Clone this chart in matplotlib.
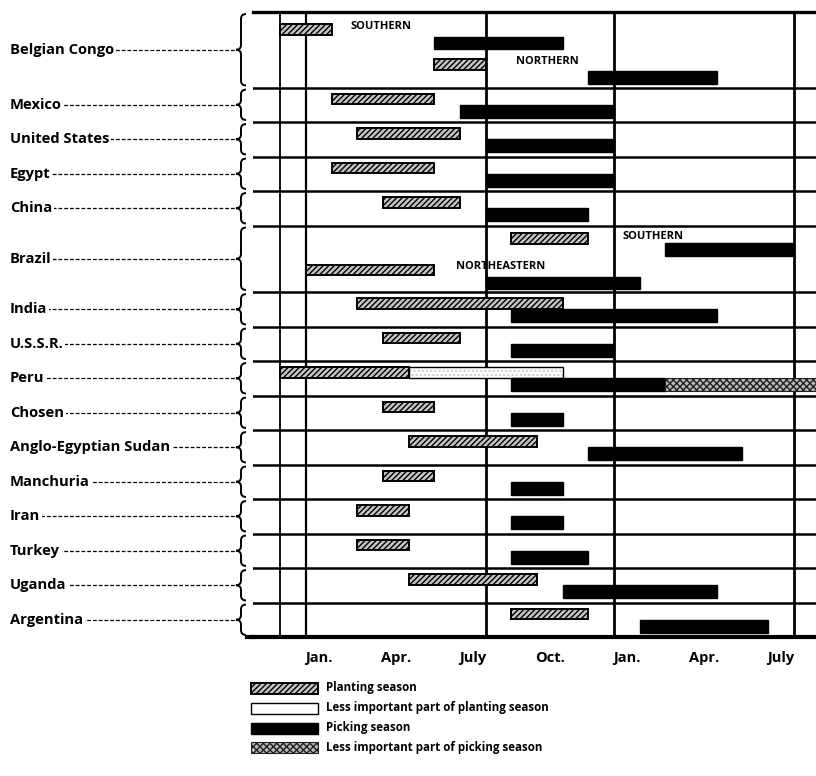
import matplotlib
matplotlib.use("Agg")
import matplotlib.pyplot as plt
import matplotlib.transforms as mtransforms
from matplotlib.patches import Rectangle, PathPatch
from matplotlib.path import Path

plt.rcParams['font.family'] = ['Open Sans', 'DejaVu Sans']
plt.rcParams['hatch.linewidth'] = 1.0

# months counted from Jan. of the first year (0 = start of Jan.)
countries = ["Belgian Congo", "Mexico", "United States", "Egypt", "China", "Brazil",
             "India", "U.S.S.R.", "Peru", "Chosen", "Anglo-Egyptian Sudan", "Manchuria",
             "Iran", "Turkey", "Uganda", "Argentina"]
planting = [[(-1, 1), (5, 7)], [(1, 5)], [(2, 6)], [(1, 5)], [(3, 6)], [(8, 11), (0, 5)],
            [(2, 10)], [(3, 6)], [(-1, 4)], [(3, 5)], [(4, 9)], [(3, 5)],
            [(2, 4)], [(2, 4)], [(4, 9)], [(8, 11)]]
planting_minor = {"Peru": (4, 10)}
picking = [[(5, 10), (11, 16)], [(6, 12)], [(7, 12)], [(7, 12)], [(7, 11)], [(14, 19), (7, 13)],
           [(8, 16)], [(8, 12)], [(8, 14)], [(8, 10)], [(11, 17)], [(8, 10)],
           [(8, 10)], [(8, 11)], [(10, 16)], [(13, 18)]]
picking_minor = {"Peru": (14, 20)}
regions = {"Belgian Congo": ["SOUTHERN", "NORTHERN"], "Brazil": ["SOUTHERN", "NORTHEASTERN"]}
tick_labels = ["Jan.", "Apr.", "July", "Oct.", "Jan.", "Apr.", "July"]
legend_labels = ["Planting season", "Less important part of planting season",
                 "Picking season", "Less important part of picking season"]

# layout of rows (in row units)
row_h = {"Belgian Congo": 2.19, "Brazil": 1.93}
sub_pos = {"Belgian Congo": dict(plant=[0.50, 1.53], pick=[0.90, 1.90], text=[0.42, 1.43], tx=[1.75, 8.2]),
           "Brazil": dict(plant=[0.37, 1.29], pick=[0.70, 1.67], text=[0.31, 1.19], tx=[12.35, 5.85])}

W, H = 816, 776
fig = plt.figure(figsize=(W / 100, H / 100), dpi=100)
ax = fig.add_axes([253 / W, 1 - 637 / H, (816 - 253) / W, (637 - 12) / H])

PH, KH = 0.31, 0.37


def plant_bar(x0, x1, yc):
    ax.add_patch(Rectangle((x0, yc - PH / 2), x1 - x0, PH, facecolor='#c4c4c4', edgecolor='black',
                           hatch='//////', lw=1.4, zorder=3))


def plant_minor_bar(x0, x1, yc):
    ax.add_patch(Rectangle((x0, yc - PH / 2), x1 - x0, PH, facecolor='white', edgecolor='#c8c8c8',
                           hatch='....', lw=0, zorder=3))
    ax.add_patch(Rectangle((x0, yc - PH / 2), x1 - x0, PH, fill=False, edgecolor='black', lw=1.0, zorder=3))


def pick_bar(x0, x1, yc):
    ax.add_patch(Rectangle((x0, yc - KH / 2), x1 - x0, KH, facecolor='black', edgecolor='black',
                           lw=1, zorder=3))


def pick_minor_bar(x0, x1, yc):
    ax.add_patch(Rectangle((x0, yc - KH / 2), x1 - x0, KH, facecolor='#b8b8b8', edgecolor='#222222',
                           hatch='xxxxx', lw=0.8, zorder=3))


blend = mtransforms.blended_transform_factory(fig.transFigure, ax.transData)

y = 0.0
bounds = [0.0]
for i, c in enumerate(countries):
    h = row_h.get(c, 1.0)
    if c in sub_pos:
        sp = sub_pos[c]
        for k, (s, e) in enumerate(planting[i]):
            plant_bar(s, e, y + sp['plant'][k])
        for k, (s, e) in enumerate(picking[i]):
            pick_bar(s, e, y + sp['pick'][k])
        for k, name in enumerate(regions[c]):
            ax.text(sp['tx'][k], y + sp['text'][k], name, fontsize=8, fontweight='bold',
                    ha='left', va='center', zorder=4)
    else:
        for s, e in planting[i]:
            plant_bar(s, e, y + 0.33)
        if c in planting_minor:
            plant_minor_bar(*planting_minor[c], y + 0.33)
        for s, e in picking[i]:
            pick_bar(s, e, y + 0.69)
        if c in picking_minor:
            pick_minor_bar(*picking_minor[c], y + 0.69)

    # label, leader and brace
    yt, yb, ym = y, y + h, y + h / 2
    ax.plot([12 / W, 236 / W], [ym, ym], transform=blend, clip_on=False, color='black',
            lw=0.9, ls=(0, (3, 1.6)))
    ax.text(10 / W, ym, c, transform=blend, fontsize=10.6, fontweight='bold', ha='left', va='center',
            bbox=dict(facecolor='white', edgecolor='none', pad=1.2), zorder=5)
    r, e = 0.14, 0.06
    xr, xm, xl = 246 / W, 241 / W, 236 / W
    verts = [(xr, yt + e), (xm, yt + e), (xm, yt + e + r), (xm, ym - r), (xm, ym), (xl, ym),
             (xm, ym), (xm, ym + r), (xm, yb - e - r), (xm, yb - e), (xr, yb - e)]
    codes = [Path.MOVETO, Path.CURVE3, Path.CURVE3, Path.LINETO, Path.CURVE3, Path.CURVE3,
             Path.CURVE3, Path.CURVE3, Path.LINETO, Path.CURVE3, Path.CURVE3]
    ax.add_patch(PathPatch(Path(verts, codes), transform=blend, fill=False, lw=1.4, clip_on=False))

    y += h
    bounds.append(y)

for b in bounds[1:-1]:
    ax.axhline(b, color='black', lw=1.8, zorder=2)
for xv, lw in [(-1, 1.3), (0, 1.6), (7, 2.0), (12, 2.0), (19, 2.0)]:
    ax.axvline(xv, color='black', lw=lw, zorder=1)

ax.set_xlim(-2.06, 19.87)
ax.set_ylim(y, 0)
for s in ['left', 'right']:
    ax.spines[s].set_visible(False)
ax.spines['top'].set_linewidth(2.4)
ax.spines['bottom'].set_linewidth(3)
# bottom rule runs a little past the rows on the left
ax.plot([247 / W, 253 / W], [y, y], transform=blend, clip_on=False, color='black', lw=3)
ax.set_yticks([])
ax.set_xticks([0.5, 3.5, 6.5, 9.5, 12.5, 15.5, 18.5])
ax.set_xticklabels(tick_labels, fontsize=10.5, fontweight='bold')
ax.tick_params(axis='x', length=0, pad=10)

# legend
leg_y = [688, 708, 728, 747]
lh = 11
styles = [dict(facecolor='#c4c4c4', edgecolor='black', hatch='//////', lw=1.4),
          dict(facecolor='white', edgecolor='black', lw=1.0),
          dict(facecolor='black', edgecolor='black', lw=1),
          dict(facecolor='#b8b8b8', edgecolor='#222222', hatch='xxxxx', lw=0.8)]
for ly, lab, st in zip(leg_y, legend_labels, styles):
    fig.add_artist(Rectangle((251 / W, 1 - (ly + lh / 2) / H), 67 / W, lh / H,
                             transform=fig.transFigure, **st))
    fig.text(326 / W, 1 - ly / H, lab, fontsize=8.3, fontweight='bold', ha='left', va='center')

fig.savefig("out.png", dpi=100)
